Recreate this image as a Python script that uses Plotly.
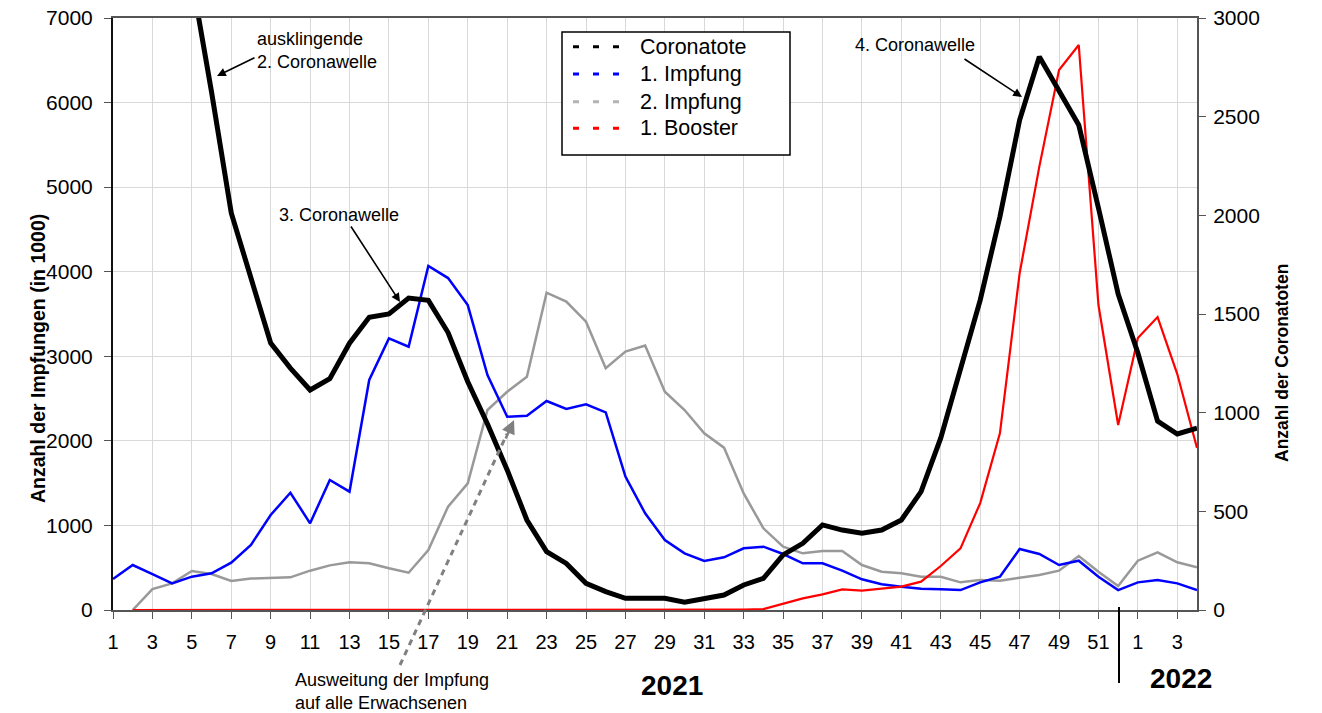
import plotly.graph_objects as go

# ---------------- data ----------------
weeks_2021 = list(range(1, 53))
weeks_2022 = list(range(1, 5))
week_labels = [str(w) for w in weeks_2021] + [str(w) for w in weeks_2022]
week_index = list(range(1, len(week_labels) + 1))   # continuous position 1..56

coronatote = [5800, 5600, 4900, 4100, 3200, 2625, 2012, 1685, 1353, 1226,
              1115, 1172, 1352, 1483, 1500, 1581, 1569, 1406, 1157, 943,
              710, 456, 296, 236, 135, 93, 59, 59, 59, 39,
              59, 76, 127, 160, 279, 338, 431, 405, 389, 405,
              456, 600, 872, 1210, 1570, 1993, 2483, 2804, 2635, 2458,
              2037, 1601, 1302, 957, 892, 922]

impfung_1 = [367, 532, 425, 315, 394, 434, 560, 769, 1123, 1387,
             1025, 1537, 1399, 2720, 3212, 3113, 4067, 3925, 3606, 2779,
             2286, 2298, 2471, 2377, 2432, 2337, 1577, 1143, 828, 670,
             579, 623, 729, 749, 662, 552, 552, 465, 363, 304,
             276, 252, 245, 236, 327, 394, 721, 662, 532, 583,
             394, 236, 327, 355, 315, 236]

impfung_2 = [None, 0, 248, 315, 461, 426, 343, 371, 378, 386,
             465, 528, 564, 552, 493, 441, 709, 1222, 1498, 2365,
             2581, 2759, 3752, 3646, 3409, 2858, 3055, 3126, 2581, 2365,
             2089, 1920, 1379, 966, 749, 670, 698, 698, 532, 453,
             434, 394, 394, 327, 355, 347, 382, 414, 465, 638,
             453, 284, 583, 682, 564, 505]

booster_1 = [None, 0, 0, 0, 0, 0, 0, 0, 0, 0,
             0, 0, 0, 0, 0, 0, 0, 0, 0, 0,
             0, 0, 0, 0, 0, 0, 0, 3, 3, 2,
             2, 3, 5, 10, 71, 138, 185, 244, 229, 256,
             276, 335, 520, 729, 1264, 2089, 3981, 5243, 6385, 6681,
             3606, 2187, 3216, 3464, 2790, 1915]

series_names = ["Coronatote", "1. Impfung", "2. Impfung", "1. Booster"]
series_colors = ["#000000", "#0000ff", "#999999", "#ff0000"]
legend_colors = ["#000000", "#0000ff", "#b3b3b3", "#ff0000"]

tick_positions = week_index[::2]
tick_labels = week_labels[::2]
left_ticks = [0, 1000, 2000, 3000, 4000, 5000, 6000, 7000]
right_ticks = [0, 500, 1000, 1500, 2000, 2500, 3000]

# ---------------- layout helpers ----------------
W, H = 1322, 713
L, R, T, B = 113, 1197, 18, 610   # plot area in page pixels
def px(x):
    return (x - L) / (R - L)
def py(y):
    return (B - y) / (B - T)

FONT = "Liberation Sans, Arial, sans-serif"

fig = go.Figure()

fig.add_trace(go.Scatter(x=week_index, y=impfung_2, mode="lines", name=series_names[2],
                         line=dict(color=series_colors[2], width=2.5), yaxis="y"))
fig.add_trace(go.Scatter(x=week_index, y=impfung_1, mode="lines", name=series_names[1],
                         line=dict(color=series_colors[1], width=2.5), yaxis="y"))
fig.add_trace(go.Scatter(x=week_index, y=booster_1, mode="lines", name=series_names[3],
                         line=dict(color=series_colors[3], width=2.2), yaxis="y"))
fig.add_trace(go.Scatter(x=week_index, y=coronatote, mode="lines", name=series_names[0],
                         line=dict(color=series_colors[0], width=5), yaxis="y2"))

annotations = []
shapes = []

def txt(text, x, y, size=18, xanchor="left", bold=False):
    annotations.append(dict(text=("<b>%s</b>" % text) if bold else text,
                            x=px(x), y=py(y), xref="paper", yref="paper",
                            xanchor=xanchor, yanchor="middle", showarrow=False,
                            align="left", font=dict(family=FONT, size=size, color="black")))

# ---- legend box (dashed symbols, as in the original) ----
shapes.append(dict(type="rect", xref="paper", yref="paper",
                   x0=px(562), y0=py(32), x1=px(790), y1=py(155),
                   line=dict(color="black", width=1.5), fillcolor="white", layer="above"))
legend_rows = [46.7, 74, 101.7, 128.3]
for name, col, yrow in zip(series_names, legend_colors, legend_rows):
    shapes.append(dict(type="line", xref="paper", yref="paper",
                       x0=px(573), x1=px(620), y0=py(yrow), y1=py(yrow),
                       line=dict(color=col, width=3, dash="6px,14px"), layer="above"))
    txt(name, 638, yrow, size=21.5)

# ---- text annotations ----
txt("ausklingende<br>2. Coronawelle", 255, 50)
txt("3. Coronawelle", 277, 215)
txt("4. Coronawelle", 853, 45)
txt("Ausweitung der Impfung<br>auf alle Erwachsenen", 293, 691)
txt("2021", 672, 685, size=28, xanchor="center", bold=True)
txt("2022", 1181, 678, size=28, xanchor="center", bold=True)

def arrow(tail, head, color="black", width=1.6):
    annotations.append(dict(text="", x=px(head[0]), y=py(head[1]), xref="paper", yref="paper",
                            ax=tail[0] - head[0], ay=tail[1] - head[1],
                            showarrow=True, arrowhead=2, arrowsize=1.1, arrowwidth=width,
                            arrowcolor=color, standoff=0, startstandoff=0))

arrow((256, 57), (217, 76))
arrow((350, 225), (400, 302))
arrow((963, 58), (1022, 97))
arrow((505, 440), (514, 420), color="#808080", width=2.5)

# axis titles
annotations.append(dict(text="<b>Anzahl der Impfungen (in 1000)</b>", x=px(25), y=py(359),
                        xref="paper", yref="paper", showarrow=False, textangle=-90,
                        font=dict(family=FONT, size=19.5, color="black")))
annotations.append(dict(text="<b>Anzahl der Coronatoten</b>", x=px(1294), y=py(363),
                        xref="paper", yref="paper", showarrow=False, textangle=-90,
                        font=dict(family=FONT, size=17.5, color="black")))

shapes.append(dict(type="line", xref="paper", yref="paper", x0=px(400), y0=py(665),
                   x1=px(507), y1=py(434),
                   line=dict(color="#808080", width=3, dash="6px,5px")))
shapes.append(dict(type="line", xref="paper", yref="paper", x0=px(1119), y0=py(607),
                   x1=px(1119), y1=py(683), line=dict(color="black", width=2)))

fig.update_layout(
    width=W, height=H,
    margin=dict(l=L, r=(W - R), t=T, b=(H - B), autoexpand=False),
    paper_bgcolor="white", plot_bgcolor="white",
    showlegend=False,
    font=dict(family=FONT, size=20, color="black"),
    xaxis=dict(range=[1, len(week_index)], tickvals=tick_positions, ticktext=tick_labels,
               showgrid=True, gridcolor="#d9d9d9", gridwidth=1, automargin=False,
               showline=True, linecolor="#555555", linewidth=2, mirror=True,
               ticks="outside", ticklen=7, tickcolor="#555555", tickwidth=1,
               ticklabelstandoff=6, zeroline=False, ticklabeloverflow="allow",
               tickfont=dict(family=FONT, size=20, color="black")),
    yaxis=dict(range=[0, 7000], tickvals=left_ticks, showgrid=True, gridcolor="#d9d9d9",
               showline=True, linecolor="#111111", linewidth=2, automargin=False,
               ticks="outside", ticklen=7, tickcolor="#555555",
               ticklabelstandoff=7, zeroline=False, ticklabeloverflow="allow",
               tickfont=dict(family=FONT, size=21, color="black")),
    yaxis2=dict(range=[0, 3000], tickvals=right_ticks, overlaying="y", side="right",
                showgrid=False, showline=True, linecolor="#555555", linewidth=2,
                automargin=False, ticklabeloverflow="allow",
                ticks="outside", ticklen=7, tickcolor="#555555",
                ticklabelstandoff=3, zeroline=False,
                tickfont=dict(family=FONT, size=21, color="black")),
    annotations=annotations,
    shapes=shapes,
)

# remove the default page margin so the figure fills the window exactly
fig.write_html("out.html", config={"displayModeBar": False},
               post_script="document.body.style.margin='0px';document.body.style.overflow='hidden';")
